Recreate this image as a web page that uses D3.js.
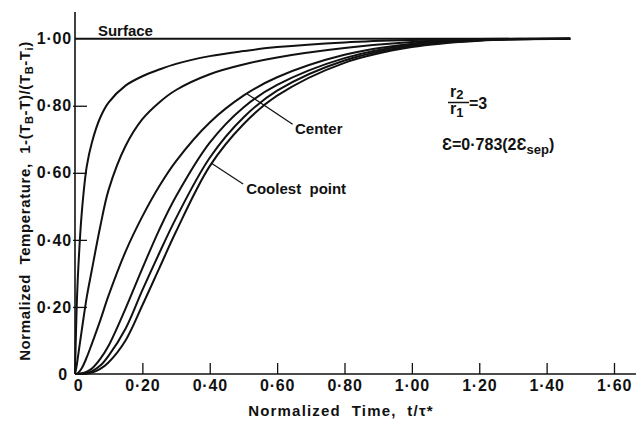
<!DOCTYPE html>
<html>
<head>
<meta charset="utf-8">
<script src="https://cdn.jsdelivr.net/npm/d3@7"></script>
<style>
  body { margin: 0; background: #fff; }
  svg { display: block; font-family: "Liberation Sans", Arial, sans-serif; }
</style>
</head>
<body>
<div id="chart"></div>
<script>
// normalized time samples (t / tau*)
const times = [0, 0.005, 0.01, 0.02, 0.035, 0.05, 0.075, 0.1, 0.15, 0.2, 0.25, 0.3, 0.4, 0.5, 0.6, 0.8, 1.0, 1.2, 1.47];

// normalized temperature at several radial positions
const surface   = [1, 1, 1, 1, 1, 1, 1, 1, 1, 1, 1, 1, 1, 1, 1, 1, 1, 1, 1];
const curveA    = [0, 0.2, 0.32, 0.48, 0.62, 0.69, 0.765, 0.81, 0.86, 0.888, 0.908, 0.925, 0.948, 0.963, 0.975, 0.989, 0.996, 0.999, 1];
const curveB    = [0, 0.025, 0.06, 0.13, 0.23, 0.31, 0.44, 0.55, 0.68, 0.76, 0.81, 0.847, 0.894, 0.923, 0.944, 0.972, 0.99, 0.998, 1];
const center    = [0, 0.001, 0.004, 0.017, 0.05, 0.09, 0.16, 0.235, 0.365, 0.47, 0.56, 0.635, 0.75, 0.83, 0.885, 0.952, 0.985, 0.997, 1];
const curveD    = [0, 0, 0.001, 0.002, 0.007, 0.016, 0.045, 0.085, 0.195, 0.315, 0.43, 0.53, 0.69, 0.795, 0.862, 0.942, 0.982, 0.996, 1];
const curveE    = [0, 0, 0, 0.001, 0.003, 0.008, 0.025, 0.055, 0.135, 0.25, 0.36, 0.465, 0.645, 0.765, 0.845, 0.935, 0.978, 0.995, 1];
const coolest   = [0, 0, 0, 0, 0.001, 0.004, 0.015, 0.035, 0.1, 0.205, 0.315, 0.425, 0.62, 0.745, 0.83, 0.928, 0.975, 0.994, 1];

const seriesList = [surface, curveA, curveB, center, curveD, curveE, coolest];

const xTicks = [0, 0.2, 0.4, 0.6, 0.8, 1.0, 1.2, 1.4, 1.6];
const yTicks = [0, 0.2, 0.4, 0.6, 0.8, 1.0];

const width = 638, height = 421;
const ink = '#111';

const x = d3.scaleLinear().domain([0, 1.6]).range([75, 614]);
const y = d3.scaleLinear().domain([0, 1]).range([374, 38.7]);

const svg = d3.select('#chart').append('svg')
  .attr('width', width)
  .attr('height', height);

const fmt = d => d === 0 ? '0' : d3.format('.2f')(d).replace('.', '\u00b7');

// x axis, ticks pointing inward
const xAxis = svg.append('g')
  .attr('transform', `translate(0,${y(0)})`)
  .call(d3.axisBottom(x).tickValues(xTicks).tickFormat(fmt).tickSizeInner(-11).tickSizeOuter(0).tickPadding(6));
xAxis.select('.domain').remove();
xAxis.selectAll('.tick line').attr('stroke', ink).attr('stroke-width', 1.3)
  .filter(d => d === 0).remove();
xAxis.selectAll('.tick text')
  .attr('fill', ink)
  .style('font-size', '16px')
  .style('font-weight', 'bold')
  .style('letter-spacing', '0.8px')
  .attr('x', d => d === 0 ? 3 : 0);

// y axis
const yAxis = svg.append('g')
  .attr('transform', `translate(${x(0)},0)`)
  .call(d3.axisLeft(y).tickValues(yTicks).tickFormat(fmt).tickSizeInner(-12).tickSizeOuter(0).tickPadding(4));
yAxis.select('.domain').remove();
yAxis.selectAll('.tick line').attr('stroke', ink).attr('stroke-width', 1.3)
  .attr('x1', -2)
  .filter(d => d === 0 || d === 1).remove();
yAxis.selectAll('.tick text')
  .attr('fill', ink)
  .style('font-size', '16px')
  .style('font-weight', 'bold')
  .style('letter-spacing', '0.8px')
  .attr('x', d => d === 0 ? -7 : -3);

// axis lines
svg.append('line')
  .attr('x1', x(0)).attr('x2', x(0))
  .attr('y1', y(0)).attr('y2', 12)
  .attr('stroke', ink).attr('stroke-width', 1.6);
svg.append('line')
  .attr('x1', x(0)).attr('x2', 636)
  .attr('y1', y(0)).attr('y2', y(0))
  .attr('stroke', ink).attr('stroke-width', 1.6);

// curves
const line = d3.line()
  .x((d, i) => x(times[i]))
  .y(d => y(d))
  .curve(d3.curveCatmullRom.alpha(0.5));

svg.append('g')
  .selectAll('path')
  .data(seriesList)
  .join('path')
  .attr('d', line)
  .attr('fill', 'none')
  .attr('stroke', ink)
  .attr('stroke-width', 2);

// labels
const bold = sel => sel.attr('fill', ink).style('font-weight', 'bold');

svg.append('text')
  .attr('x', x(0.068)).attr('y', y(1.008))
  .style('font-size', '15px')
  .call(bold)
  .text('Surface');

// leader lines
const leaders = [
  { from: [0.51, 0.836], to: [0.646, 0.745] },
  { from: [0.404, 0.629], to: [0.499, 0.567] }
];
svg.append('g')
  .selectAll('line')
  .data(leaders)
  .join('line')
  .attr('x1', d => x(d.from[0])).attr('y1', d => y(d.from[1]))
  .attr('x2', d => x(d.to[0])).attr('y2', d => y(d.to[1]))
  .attr('stroke', ink).attr('stroke-width', 1.2);

svg.append('text')
  .attr('x', x(0.653)).attr('y', y(0.716))
  .style('font-size', '15px')
  .call(bold)
  .text('Center');

svg.append('text')
  .attr('x', x(0.508)).attr('y', y(0.537))
  .style('font-size', '15px')
  .style('white-space', 'pre')
  .call(bold)
  .text('Coolest  point');

// r2/r1 = 3
const frac = svg.append('g').attr('fill', ink).style('font-weight', 'bold');
const r2 = frac.append('text').attr('x', 450).attr('y', 97).style('font-size', '16px');
r2.append('tspan').text('r');
r2.append('tspan').attr('dy', 2).style('font-size', '13px').text('2');
frac.append('line')
  .attr('x1', 448).attr('x2', 469)
  .attr('y1', 102.5).attr('y2', 102.5)
  .attr('stroke', ink).attr('stroke-width', 1.5);
const r1 = frac.append('text').attr('x', 450).attr('y', 114).style('font-size', '16px');
r1.append('tspan').text('r');
r1.append('tspan').attr('dy', 3).style('font-size', '13px').text('1');
frac.append('text').attr('x', 469).attr('y', 109).style('font-size', '16px').text('=3');

const eps = svg.append('text')
  .attr('x', 442).attr('y', 150)
  .attr('fill', ink)
  .style('font-size', '16px')
  .style('font-weight', 'bold');
eps.append('tspan').text('\u0190=0\u00b7783(2\u0190');
eps.append('tspan').attr('dy', 4).style('font-size', '13px').text('sep');
eps.append('tspan').attr('dy', -4).text(')');

// axis titles
svg.append('text')
  .attr('x', 341).attr('y', 416)
  .attr('text-anchor', 'middle')
  .style('font-size', '15px')
  .style('letter-spacing', '1.2px')
  .style('white-space', 'pre')
  .call(bold)
  .text('Normalized  Time,  t/\u03c4*');

const yt = svg.append('text')
  .attr('transform', 'translate(30,201) rotate(-90)')
  .attr('text-anchor', 'middle')
  .style('font-size', '15px')
  .style('letter-spacing', '0.6px')
  .style('white-space', 'pre')
  .call(bold);
yt.append('tspan').text('Normalized  Temperature,  1-(T');
yt.append('tspan').attr('dy', 3).style('font-size', '11px').text('B');
yt.append('tspan').attr('dy', -3).text('-T)/(T');
yt.append('tspan').attr('dy', 3).style('font-size', '11px').text('B');
yt.append('tspan').attr('dy', -3).text('-T');
yt.append('tspan').attr('dy', 3).style('font-size', '11px').text('i');
yt.append('tspan').attr('dy', -3).text(')');
</script>
</body>
</html>
